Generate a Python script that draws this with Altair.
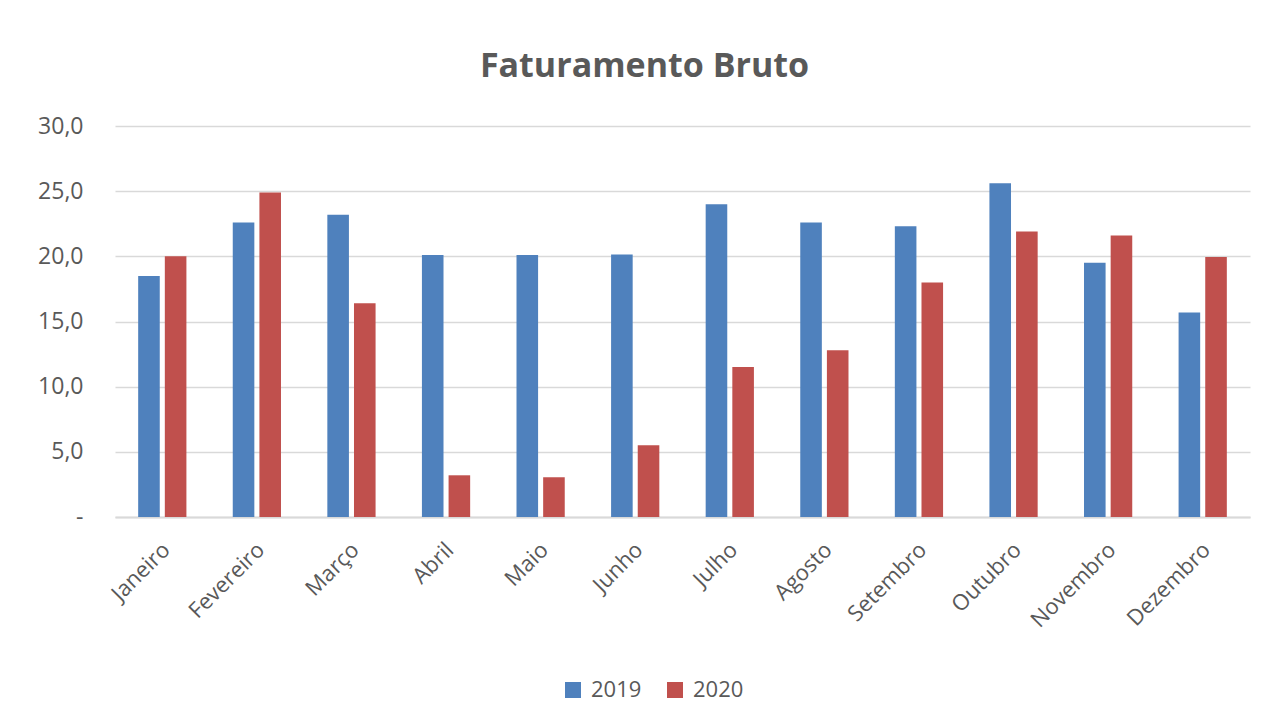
import altair as alt
import pandas as pd

months = ["Janeiro", "Fevereiro", "Março", "Abril", "Maio", "Junho",
          "Julho", "Agosto", "Setembro", "Outubro", "Novembro", "Dezembro"]
years = ["2019", "2020"]
v2019 = [18.5, 22.6, 23.2, 20.1, 20.1, 20.15, 24.0, 22.6, 22.3, 25.6, 19.5, 15.7]
v2020 = [20.0, 24.9, 16.4, 3.2, 3.05, 5.5, 11.5, 12.8, 18.0, 21.9, 21.6, 19.95]
y_ticks = [0, 5, 10, 15, 20, 25, 30]

rows = []
for m, a, b in zip(months, v2019, v2020):
    rows.append({"Mês": m, "Ano": years[0], "Valor": a})
    rows.append({"Mês": m, "Ano": years[1], "Valor": b})
df = pd.DataFrame(rows)

FONT = "Open Sans"
GRAY = "#595959"

chart = alt.Chart(df).mark_bar().encode(
    x=alt.X("Mês:N", sort=months,
            scale=alt.Scale(paddingInner=0.49, paddingOuter=0.245),
            axis=alt.Axis(title=None, labelAngle=-45, labelAlign="right",
                          labelBaseline="middle", ticks=False,
                          labelFontSize=22, labelFont=FONT, labelColor=GRAY,
                          labelPadding=29, labelOffset=4,
                          domainColor="#d9d9d9", domainWidth=2)),
    xOffset=alt.XOffset("Ano:N", sort=years, scale=alt.Scale(paddingInner=0.19)),
    y=alt.Y("Valor:Q", scale=alt.Scale(domain=[0, 30], nice=False),
            axis=alt.Axis(title=None, values=y_ticks, domain=False, ticks=False,
                          labelExpr="datum.value == 0 ? '-\u00a0\u00a0' : replace(format(datum.value, '.1f'), '.', ',')",
                          labelFontSize=23, labelFont=FONT, labelColor=GRAY,
                          labelPadding=32, gridColor="#d9d9d9", gridWidth=1.5)),
    color=alt.Color("Ano:N",
                    scale=alt.Scale(domain=years, range=["#4F81BD", "#C0504D"]),
                    legend=alt.Legend(title=None, orient="none", legendX=447, legendY=553,
                                      direction="horizontal", symbolType="square",
                                      symbolSize=256, symbolStrokeWidth=0,
                                      labelFontSize=22, labelFont=FONT, labelColor=GRAY,
                                      labelOffset=7, columnPadding=22)),
).properties(
    width=1135,
    height=391,
    title=alt.TitleParams(text="Faturamento Bruto", font=FONT, fontSize=34,
                          fontWeight="bold", color=GRAY, anchor="middle",
                          dx=-38, offset=4, baseline="alphabetic"),
    autosize=alt.AutoSizeParams(type="none"),
    padding={"left": 107, "top": 118, "right": 14, "bottom": 190},
).configure_view(stroke=None)

chart.save("out.html", embed_options={"renderer": "svg", "actions": False})
